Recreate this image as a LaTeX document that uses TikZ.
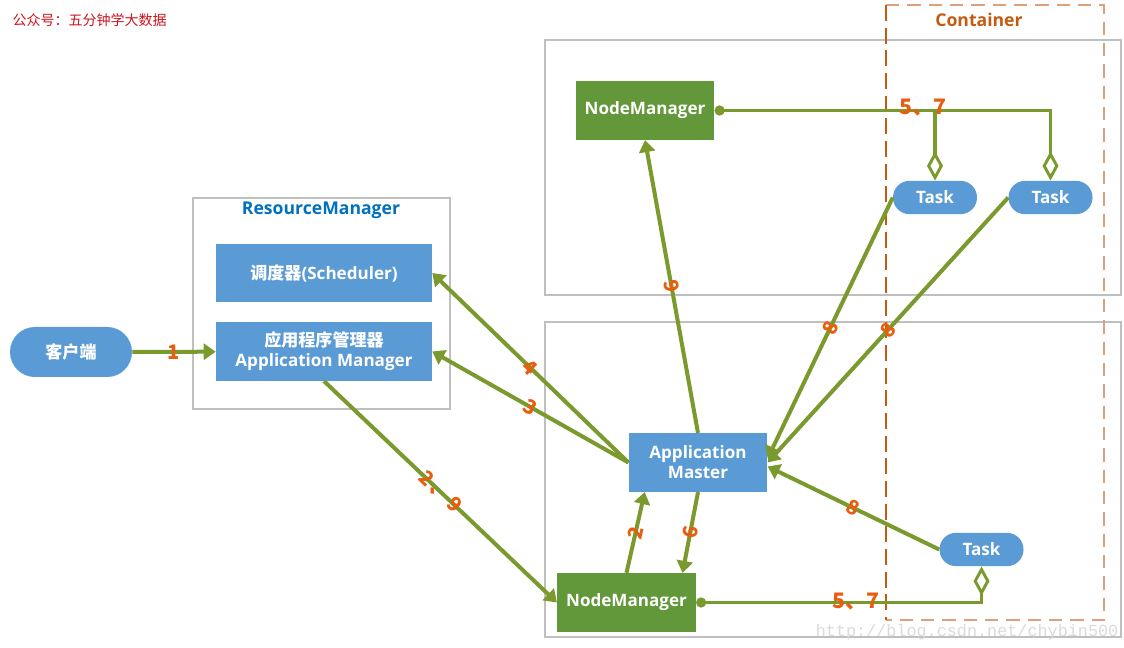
\documentclass[tikz,border=0pt]{standalone}
\usepackage{fontspec}
\setmainfont{Open Sans}
\newfontfamily\cjk{Noto Sans CJK SC}
\newfontfamily\webfont{Liberation Mono}
\usetikzlibrary{arrows.meta, calc}

\definecolor{boxblue}{RGB}{91,155,213}
\definecolor{nmgreen}{RGB}{99,152,58}
\definecolor{linkgreen}{RGB}{122,154,46}
\definecolor{numorange}{RGB}{232,93,14}
\definecolor{framegray}{RGB}{191,191,191}
\definecolor{rmblue}{RGB}{0,112,192}
\definecolor{contbrown}{RGB}{197,90,17}
\definecolor{contlight}{RGB}{222,160,122}
\definecolor{notered}{RGB}{204,20,30}

\begin{document}
\begin{tikzpicture}[x=0.75pt, y=-0.75pt,
  blk/.style={fill=boxblue, text=white, inner sep=0pt, align=center,
    font=\bfseries\fontsize{12.8}{15}\selectfont},
  nm/.style={blk, fill=nmgreen, minimum width=104pt, minimum height=44pt},
  pill/.style={blk, minimum width=63pt, minimum height=25pt, rounded corners=12.4pt},
  frame/.style={draw=framegray, line width=0.8pt},
  link/.style={draw=linkgreen, line width=3pt, -{Triangle[length=9pt,width=12pt]}},
  hook/.style={draw=linkgreen, line width=2.8pt},
  num/.style={text=numorange, font=\cjk\bfseries\fontsize{15}{15}\selectfont, sloped, inner sep=0pt},
  dot/.style={{Circle[length=7.5pt]}-{Diamond[open,length=22pt,width=12pt,line width=2.2pt]}}
]
\useasboundingbox[fill=white] (0,0) rectangle (1124,648);

% frames
\draw[frame] (545,40) rectangle (1121,295);
\draw[frame] (545,322) rectangle (1121,637);
\draw[frame] (193,198) rectangle (450,409);
\draw[contlight, line width=1.2pt, dash pattern=on 10pt off 6pt] (886,5) -- (1104,5) -- (1104,620) -- (886,620);
\draw[contbrown, line width=1pt, dash pattern=on 12pt off 5pt] (886,5) -- (886,620);

\node[text=notered, anchor=west, font=\cjk\fontsize{10.5}{12}\selectfont] (note) at (8,20) {公众号：五分钟学大数据};
\node[text=contbrown, font=\bfseries\fontsize{13.2}{15}\selectfont] (cont) at (979,20) {Container};
\node[text=rmblue, font=\bfseries\fontsize{13.2}{15}\selectfont] (rmtitle) at (321,210) {ResourceManager};

% nodes
\node[blk, minimum width=91.5pt, minimum height=37.5pt, rounded corners=18.7pt] (client) at (71,352) {\cjk 客户端};
\node[blk, minimum width=162pt, minimum height=43.5pt] (sched) at (324,273) {{\cjk 调度器}(Scheduler)};
\node[blk, minimum width=162pt, minimum height=44pt] (appmgr) at (324,351.5) {{\cjk 应用程序管理器}\\Application Manager};
\node[nm] (nmtop) at (645,110.5) {NodeManager};
\node[nm] (nmbot) at (626.5,602.5) {NodeManager};
\node[blk, minimum width=104pt, minimum height=44pt] (am) at (698,462.5) {Application\\Master};
\node[pill] (task1) at (935,197.5) {Task};
\node[pill] (task2) at (1050.5,197.5) {Task};
\node[pill] (task3) at (981.5,549.5) {Task};

% connectors
\draw[link] (client) -- (appmgr) node[num, pos=.5]{1};
\draw[link] (appmgr.south) -- (nmbot.west) node[num, pos=.5]{2\,、\,9};
\draw[link] (am.west) -- (sched.east) node[num, pos=.5]{4};
\draw[link] (am.west) -- (appmgr.east) node[num, pos=.5]{3};
\draw[link] (nmbot.north) -- ([xshift=-40pt]am.south) node[num, pos=.5]{2};
\draw[link] (am.south) -- ([xshift=42pt]nmbot.north) node[num, pos=.5]{6};
\draw[link] (am.north) -- (nmtop.south) node[num, pos=.5]{9};
\draw[link] (task1.west) -- ([yshift=3pt]am.east) node[num, pos=.5]{8};
\draw[link] (task2.west) -- (am.east) node[num, pos=.5]{8};
\draw[link] (task3.west) -- ([yshift=-3pt]am.east) node[num, pos=.5]{8};
\draw[hook, dot] (nmtop.east) -| (task2.north) node[num, font=\cjk\bfseries\fontsize{16}{16}\selectfont, pos=.31, yshift=2pt]{5、7};
\draw[hook, -{Diamond[open,length=22pt,width=12pt,line width=2.2pt]}] (task1.north |- nmtop.east) -- (task1.north);
\draw[hook, dot] (nmbot.east) -| (task3.south) node[num, font=\cjk\bfseries\fontsize{16}{16}\selectfont, pos=.28, yshift=1pt]{5、7};

\node[text=black!14, anchor=east, font=\webfont\fontsize{12.6}{14}\selectfont] (wm) at (1123,632) {http://blog.csdn.net/chybin500};
\end{tikzpicture}
\end{document}
